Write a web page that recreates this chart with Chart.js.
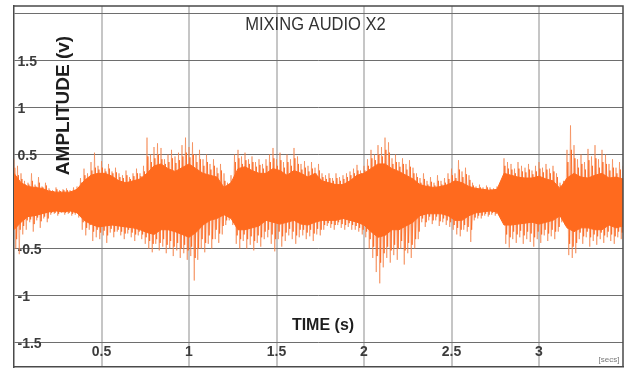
<!DOCTYPE html>
<html><head><meta charset="utf-8">
<script src="https://cdn.jsdelivr.net/npm/chart.js@4.4.0/dist/chart.umd.min.js"></script>
<style>html,body{margin:0;padding:0;background:#fff;overflow:hidden}canvas{display:block}</style>
</head><body>
<canvas id="c" width="635" height="369"></canvas>
<script>
const chartTitle = 'MIXING AUDIO X2';
const xAxisTitle = 'TIME (s)';
const yAxisTitle = 'AMPLITUDE (v)';
const xUnitNote = '[secs]';

const xTickValues = [0.5, 1, 1.5, 2, 2.5, 3];
const xTickLabels = ['0.5', '1', '1.5', '2', '2.5', '3'];
const yTickValues = [-1.5, -1, -0.5, 0, 0.5, 1, 1.5, 2];
const yTickLabels = ['-1.5', '-1', '-0.5', '0', '0.5', '1', '1.5', ''];

// dense core of the waveform, one value every 0.04 s
const coreStep = 0.04;
const coreHi = [0.30,0.20,0.16,0.15,0.14,0.11,0.10,0.10,0.10,0.13,
  0.22,0.28,0.30,0.30,0.27,0.22,0.20,0.22,0.24,0.30,
  0.38,0.40,0.35,0.32,0.36,0.40,0.35,0.30,0.28,0.26,
  0.15,0.20,0.35,0.37,0.33,0.30,0.30,0.35,0.33,0.28,
  0.33,0.30,0.26,0.30,0.22,0.20,0.18,0.18,0.22,0.28,
  0.30,0.35,0.40,0.40,0.35,0.32,0.28,0.24,0.18,0.16,
  0.15,0.16,0.18,0.22,0.20,0.16,0.14,0.13,0.12,0.13,
  0.30,0.28,0.26,0.25,0.25,0.27,0.24,0.22,0.14,0.25,
  0.30,0.26,0.25,0.28,0.30,0.25,0.26,0.24];
const coreLo = [-0.30,-0.22,-0.16,-0.15,-0.13,-0.11,-0.10,-0.11,-0.10,-0.12,
  -0.20,-0.24,-0.27,-0.26,-0.25,-0.26,-0.27,-0.28,-0.30,-0.33,
  -0.35,-0.30,-0.30,-0.32,-0.35,-0.38,-0.33,-0.25,-0.20,-0.18,
  -0.14,-0.18,-0.30,-0.30,-0.28,-0.26,-0.20,-0.22,-0.24,-0.22,
  -0.20,-0.24,-0.25,-0.22,-0.20,-0.20,-0.20,-0.18,-0.20,-0.22,
  -0.25,-0.32,-0.38,-0.36,-0.30,-0.30,-0.26,-0.22,-0.15,-0.13,
  -0.13,-0.13,-0.15,-0.20,-0.20,-0.15,-0.12,-0.11,-0.10,-0.11,
  -0.25,-0.25,-0.24,-0.23,-0.22,-0.24,-0.22,-0.20,-0.15,-0.28,
  -0.32,-0.28,-0.28,-0.30,-0.30,-0.25,-0.28,-0.26];

// peak excursions (light spikes), one pair every 0.02 s
const peakStep = 0.02;
const peakHi = [0.45,0.38,0.30,0.22,
  0.20,0.30,0.18,0.26,0.16,0.20,
  0.14,0.12,0.15,0.12,0.13,0.14,0.12,0.15,0.16,
  0.25,0.35,0.30,0.42,0.52,
  0.38,0.43,0.35,0.40,0.32,0.36,0.30,0.28,0.33,0.26,0.30,0.35,0.30,0.38,
  0.68,0.50,0.58,0.62,0.57,0.45,0.50,0.55,0.48,0.52,0.60,0.68,0.58,0.63,0.50,
  0.55,0.45,0.50,0.40,0.45,0.36,0.40,0.30,
  0.20,0.28,
  0.50,0.55,0.48,0.52,0.45,0.48,0.42,0.45,0.40,
  0.45,0.50,0.57,0.45,0.52,0.42,0.50,0.45,0.57,0.48,
  0.40,0.43,0.38,0.42,0.36,0.40,0.30,
  0.28,0.30,0.25,0.30,0.26,0.28,0.30,0.32,
  0.35,0.39,0.33,0.38,0.45,
  0.55,0.50,0.60,0.58,0.68,0.63,
  0.46,0.50,0.42,0.46,0.40,0.44,0.36,0.30,
  0.25,0.30,0.22,0.26,0.20,0.28,0.22,0.25,0.30,
  0.35,0.30,0.44,0.32,0.36,0.28,
  0.20,0.16,0.18,0.15,0.17,0.15,0.14,0.16,0.18,
  0.46,0.42,0.40,0.35,0.42,0.38,0.36,0.40,0.33,0.38,0.42,0.36,0.40,0.35,0.38,0.30,
  0.20,0.22,
  0.55,0.81,0.60,
  0.45,0.50,0.42,0.56,0.48,0.60,0.45,0.55,0.50,0.40,0.45,0.36,0.42,0.38];
const peakLo = [-0.50,-0.56,-0.35,-0.30,
  -0.22,-0.32,-0.20,-0.28,-0.18,-0.22,
  -0.14,-0.13,-0.15,-0.12,-0.14,-0.13,-0.15,-0.14,-0.17,
  -0.30,-0.36,-0.30,-0.42,-0.38,
  -0.40,-0.36,-0.44,-0.33,-0.38,-0.32,-0.36,-0.40,-0.34,-0.38,-0.42,-0.36,-0.40,-0.45,
  -0.50,-0.54,-0.45,-0.52,-0.48,-0.55,-0.50,-0.58,-0.52,-0.60,-0.55,-0.62,-0.58,-0.84,-0.62,
  -0.50,-0.54,-0.45,-0.50,-0.40,-0.44,-0.35,-0.25,
  -0.20,-0.25,
  -0.45,-0.50,-0.42,-0.50,-0.46,-0.52,-0.44,-0.48,-0.40,
  -0.38,-0.45,-0.53,-0.40,-0.48,-0.42,-0.36,-0.40,-0.45,-0.38,
  -0.36,-0.40,-0.37,-0.42,-0.35,-0.36,-0.30,
  -0.26,-0.28,-0.30,-0.25,-0.28,-0.30,-0.27,-0.30,
  -0.30,-0.32,-0.35,-0.38,-0.50,
  -0.60,-0.75,-0.87,-0.70,-0.60,-0.65,
  -0.57,-0.62,-0.50,-0.67,-0.55,-0.60,-0.50,-0.40,
  -0.22,-0.27,-0.20,-0.24,-0.20,-0.26,-0.22,-0.25,-0.27,
  -0.30,-0.35,-0.37,-0.30,-0.32,-0.43,
  -0.20,-0.18,-0.18,-0.15,-0.16,-0.14,-0.15,-0.13,-0.16,
  -0.45,-0.49,-0.40,-0.44,-0.38,-0.45,-0.40,-0.43,-0.48,-0.40,-0.44,-0.36,-0.42,-0.37,-0.40,-0.32,
  -0.22,-0.25,
  -0.57,-0.60,-0.55,
  -0.40,-0.45,-0.38,-0.48,-0.42,-0.46,-0.40,-0.44,-0.38,-0.42,-0.45,-0.38,-0.40,-0.35];

// intermediate excursions (solid ragged edge), one pair every 0.02 s
const midHi = [0.36,0.28,0.24,0.18,
  0.18,0.22,0.16,0.20,0.15,0.17,
  0.12,0.11,0.13,0.11,0.12,0.12,0.11,0.12,0.14,
  0.20,0.28,0.25,0.33,0.36,
  0.34,0.36,0.32,0.35,0.30,0.31,0.26,0.25,0.28,0.24,0.27,0.30,0.27,0.32,
  0.48,0.42,0.46,0.50,0.45,0.40,0.42,0.46,0.41,0.44,0.48,0.52,0.47,0.50,0.42,
  0.45,0.38,0.42,0.34,0.38,0.30,0.33,0.22,
  0.17,0.22,
  0.42,0.46,0.40,0.44,0.40,0.42,0.37,0.39,0.35,
  0.38,0.42,0.46,0.38,0.44,0.36,0.42,0.38,0.46,0.40,
  0.34,0.36,0.32,0.35,0.30,0.33,0.26,
  0.24,0.25,0.22,0.25,0.22,0.24,0.26,0.28,
  0.30,0.33,0.30,0.33,0.38,
  0.46,0.44,0.50,0.48,0.55,0.52,
  0.40,0.42,0.37,0.40,0.34,0.37,0.30,0.26,
  0.20,0.24,0.18,0.21,0.17,0.22,0.18,0.20,0.24,
  0.28,0.25,0.34,0.26,0.29,0.23,
  0.17,0.14,0.15,0.13,0.15,0.13,0.12,0.14,0.15,
  0.38,0.35,0.34,0.30,0.35,0.32,0.31,0.34,0.29,0.32,0.35,0.31,0.34,0.30,0.32,0.26,
  0.17,0.19,
  0.42,0.55,0.46,
  0.36,0.40,0.34,0.44,0.38,0.46,0.36,0.42,0.40,0.33,0.36,0.30,0.34,0.31];
const midLo = [-0.40,-0.30,-0.26,-0.20,
  -0.19,-0.24,-0.17,-0.21,-0.16,-0.18,
  -0.12,-0.12,-0.13,-0.11,-0.12,-0.12,-0.13,-0.12,-0.14,
  -0.22,-0.28,-0.25,-0.32,-0.30,
  -0.33,-0.31,-0.36,-0.29,-0.32,-0.30,-0.32,-0.34,-0.30,-0.33,-0.35,-0.32,-0.35,-0.38,
  -0.42,-0.45,-0.40,-0.44,-0.40,-0.46,-0.42,-0.48,-0.44,-0.50,-0.46,-0.52,-0.48,-0.60,-0.50,
  -0.40,-0.44,-0.36,-0.40,-0.30,-0.34,-0.26,-0.20,
  -0.17,-0.20,
  -0.36,-0.40,-0.35,-0.40,-0.37,-0.42,-0.36,-0.38,-0.32,
  -0.30,-0.35,-0.40,-0.32,-0.37,-0.33,-0.29,-0.32,-0.36,-0.30,
  -0.30,-0.33,-0.30,-0.34,-0.29,-0.30,-0.25,
  -0.23,-0.24,-0.25,-0.22,-0.24,-0.25,-0.23,-0.25,
  -0.26,-0.28,-0.30,-0.32,-0.40,
  -0.48,-0.58,-0.65,-0.55,-0.48,-0.52,
  -0.46,-0.50,-0.42,-0.52,-0.44,-0.46,-0.40,-0.32,
  -0.18,-0.22,-0.16,-0.20,-0.16,-0.21,-0.18,-0.20,-0.22,
  -0.25,-0.28,-0.30,-0.25,-0.27,-0.30,
  -0.17,-0.15,-0.15,-0.13,-0.14,-0.12,-0.13,-0.12,-0.14,
  -0.35,-0.38,-0.32,-0.35,-0.31,-0.36,-0.32,-0.34,-0.38,-0.32,-0.35,-0.30,-0.34,-0.30,-0.32,-0.27,
  -0.19,-0.22,
  -0.45,-0.48,-0.44,
  -0.33,-0.37,-0.32,-0.38,-0.35,-0.37,-0.33,-0.36,-0.32,-0.35,-0.37,-0.32,-0.33,-0.30];

const coreColor = '#ff6a1e';
const midColor = 'rgba(252,108,38,0.9)';
const spikeColor = 'rgba(244,128,70,0.62)';
const FONT = '"Liberation Sans", Arial, Helvetica, sans-serif';

const corePtsHi = coreHi.map((v, i) => ({x: i * coreStep, y: v}));
const corePtsLo = coreLo.map((v, i) => ({x: i * coreStep, y: v}));
function zigzag(hi, lo, offset) {
  const pts = [];
  hi.forEach((v, i) => {
    pts.push({x: i * peakStep + offset, y: v});
    pts.push({x: i * peakStep + offset + peakStep / 2, y: lo[i]});
  });
  return pts;
}
const spikePts = zigzag(peakHi, peakLo, 0);
const midPts = zigzag(midHi, midLo, peakStep / 4);

const annot = {
  id: 'annot',
  beforeDatasetsDraw(chart) {
    const {ctx, chartArea, scales: {y}} = chart;
    ctx.save();
    ctx.fillStyle = '#3c3c3c';
    ctx.font = 'bold 14px ' + FONT;
    ctx.textAlign = 'left';
    ctx.textBaseline = 'middle';
    yTickValues.forEach((v, i) => {
      if (yTickLabels[i]) ctx.fillText(yTickLabels[i], chartArea.left + 3.5, y.getPixelForValue(v) + 2);
    });
    ctx.restore();
  },
  afterDraw(chart) {
    const {ctx, chartArea, scales: {x}} = chart;
    ctx.save();
    ctx.strokeStyle = '#4a4a4a';
    ctx.lineWidth = 1.5;
    ctx.beginPath();
    ctx.moveTo(chartArea.left, chartArea.top);
    ctx.lineTo(chartArea.right, chartArea.top);
    ctx.lineTo(chartArea.right, chartArea.bottom);
    ctx.stroke();
    ctx.fillStyle = '#3c3c3c';
    ctx.font = 'bold 14px ' + FONT;
    ctx.textAlign = 'center';
    ctx.textBaseline = 'middle';
    xTickValues.forEach((v, i) => ctx.fillText(xTickLabels[i], x.getPixelForValue(v), chartArea.bottom - 15));
    ctx.fillStyle = '#777';
    ctx.font = '8px ' + FONT;
    ctx.fillText(xUnitNote, chartArea.right - 14, chartArea.bottom - 7);
    ctx.fillStyle = '#1e1e1e';
    ctx.font = 'bold 16px ' + FONT;
    ctx.fillText(xAxisTitle, 323, 326);
    ctx.save();
    ctx.translate(63.5, 105.5);
    ctx.rotate(-Math.PI / 2);
    ctx.font = 'bold 19px ' + FONT;
    ctx.fillText(yAxisTitle, 0, 0);
    ctx.restore();
    ctx.save();
    ctx.translate(315.5, 24.5);
    ctx.scale(0.87, 1);
    ctx.fillStyle = '#333';
    ctx.font = '19px ' + FONT;
    ctx.fillText(chartTitle, 0, 0);
    ctx.restore();
    ctx.restore();
  }
};

new Chart(document.getElementById('c'), {
  type: 'line',
  data: {
    datasets: [
      {data: corePtsHi, fill: '+1', backgroundColor: coreColor, borderColor: coreColor, borderWidth: 1, pointRadius: 0, tension: 0},
      {data: corePtsLo, fill: false, borderColor: coreColor, borderWidth: 1, pointRadius: 0, tension: 0},
      {data: midPts, fill: false, borderColor: midColor, borderWidth: 1, pointRadius: 0, tension: 0},
      {data: spikePts, fill: false, borderColor: spikeColor, borderWidth: 1, pointRadius: 0, tension: 0}
    ]
  },
  options: {
    responsive: false,
    animation: false,
    devicePixelRatio: 1,
    events: [],
    layout: {padding: {left: 14, right: 12, top: 6, bottom: 2}},
    plugins: {legend: {display: false}, tooltip: {enabled: false}, title: {display: false}},
    scales: {
      x: {
        type: 'linear', min: 0, max: 3.48,
        afterBuildTicks: s => { s.ticks = xTickValues.map(v => ({value: v})); },
        ticks: {display: false},
        grid: {color: '#c6c6c6', lineWidth: 2, drawTicks: false},
        border: {display: true, color: '#4a4a4a', width: 1.5}
      },
      y: {
        type: 'linear', min: -1.76, max: 2.08,
        afterBuildTicks: s => { s.ticks = yTickValues.map(v => ({value: v})); },
        ticks: {display: false},
        grid: {color: '#6e6e6e', lineWidth: 1, drawTicks: false},
        border: {display: true, color: '#4a4a4a', width: 1.5}
      }
    }
  },
  plugins: [annot]
});
</script>
</body></html>
